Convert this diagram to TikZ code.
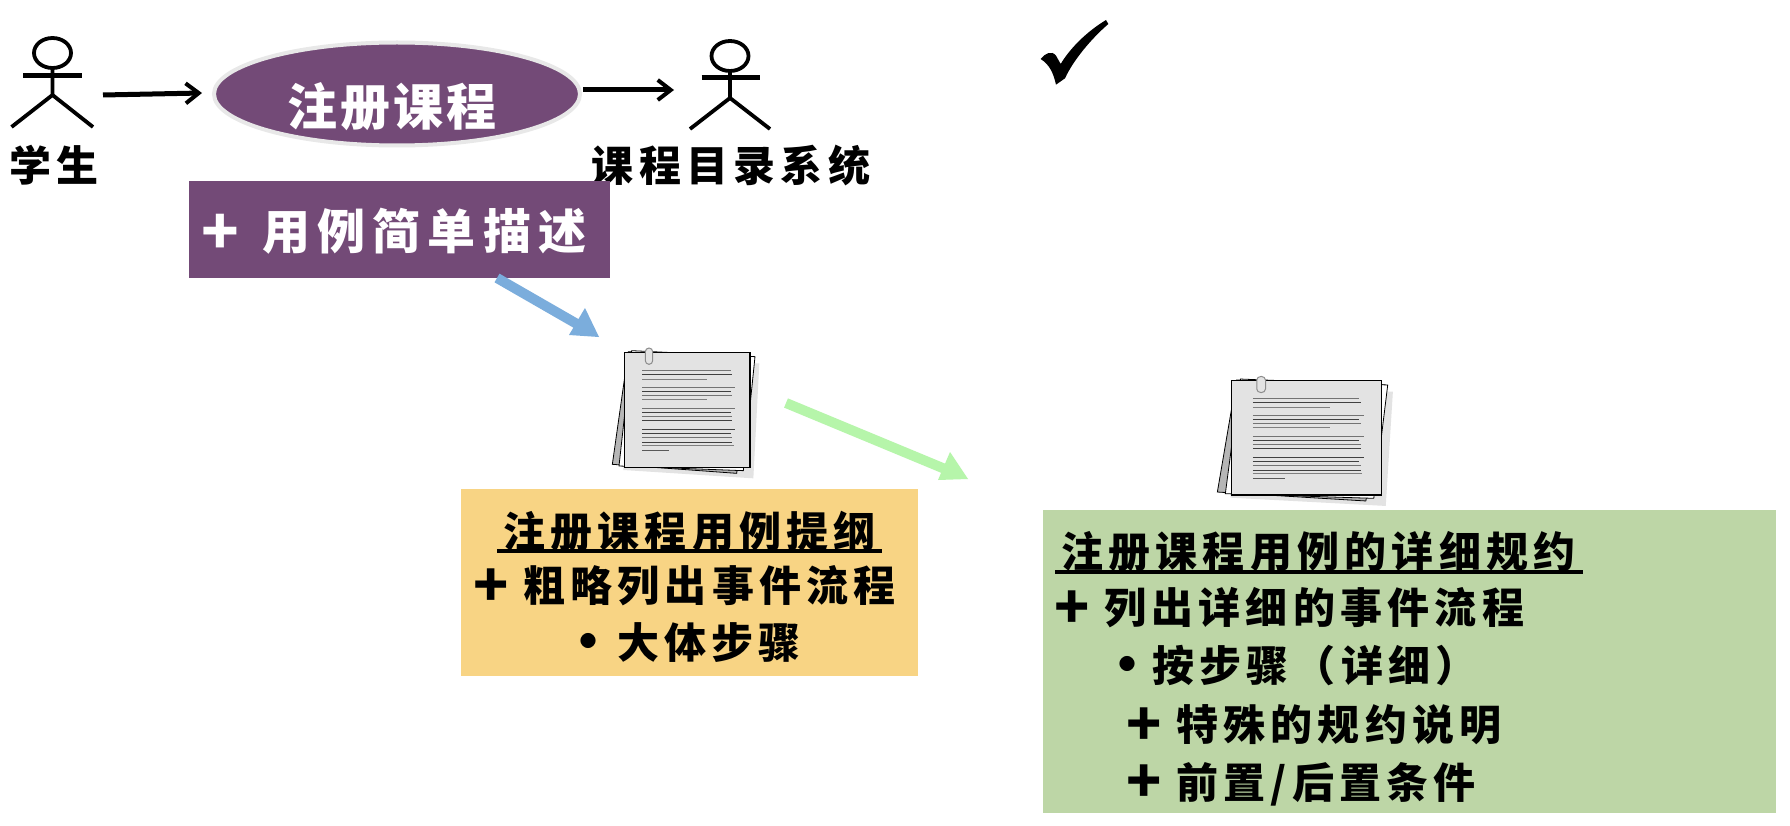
\documentclass[tikz,border=0pt]{standalone}
\usepackage{fontspec}
\usetikzlibrary{arrows.meta,shapes.geometric}
\setmainfont{Noto Sans CJK SC}
\newfontfamily\cjkA[LetterSpace=12.5]{Noto Sans CJK SC}
\newfontfamily\cjkB[LetterSpace=14]{Noto Sans CJK SC}
\newfontfamily\cjkC[LetterSpace=6]{Noto Sans CJK SC}
\newfontfamily\cjkD[LetterSpace=15]{Noto Sans CJK SC}
\definecolor{plum}{HTML}{734A77}
\definecolor{rimgray}{HTML}{E8E8E8}
\definecolor{orangebox}{HTML}{F8D484}
\definecolor{greenbox}{HTML}{BDD6A6}
\definecolor{bluearrow}{HTML}{7BADDC}
\definecolor{greenarrow}{HTML}{B6F5AA}
\definecolor{sheet}{HTML}{E3E3E3}
\newcommand{\plusgap}[2][50pt]{\makebox[#1][l]{\raisebox{-0.1em}{\fontsize{#2}{#2}\selectfont +}}}
\newcommand{\bulletgap}[1][39pt]{\makebox[#1][l]{\raisebox{-0.05em}{\fontsize{54}{54}\selectfont •}}}
\tikzset{
  actorline/.style={draw=black,line width=3.8pt},
  actorarm/.style={draw=black,line width=5pt},
  flow/.style={draw=black,line width=5pt,-{Straight Barb[length=13pt,width=20pt,line width=4pt]}},
  bigarrow/.style={line width=#1},
  blacktext/.style={inner sep=0pt,anchor=west,text=black,font=\fontsize{42}{42}\cjkA\bfseries},
  rule/.style={draw=black,line width=4pt},
}
\newcommand{\docicon}[4]{%
\begin{scope}[shift={(#1,#2)},xscale=#3/3,yscale=#4/3]
  \fill[black!11] (120,95) -- (508,100) -- (490,445) -- (100,420) -- cycle;
  \filldraw[fill=sheet!80!black,draw=black,line width=0.8pt] (115,65) -- (490,80) -- (440,430) -- (67,403) -- cycle;
  \filldraw[fill=white,draw=black,line width=0.8pt] (125,62) -- (495,80) -- (460,422) -- (87,408) -- cycle;
  \filldraw[fill=sheet,draw=black,line width=1.2pt] (103,67) rectangle (480,412);
  \foreach \ypos/\xend/\shade in {121/423/55,132/427/75,147/350/50,171/435/55,184/423/75,197/427/55,209/350/50,236/435/55,247/423/75,260/427/55,271/427/75,298/435/75,310/423/75,323/427/55,337/427/75,347/431/50,361/237/65}
    \draw[black!\shade,line width=1pt] (156,\ypos) -- (\xend,\ypos);
  \filldraw[fill=sheet,draw=black!45,line width=1pt] (166,65) arc[start angle=180,end angle=360,x radius=11,y radius=11] -- (188,92) arc[start angle=0,end angle=180,x radius=11,y radius=11] -- cycle;
\end{scope}}
\begin{document}
\begin{tikzpicture}[x=1pt,y=-1pt]
\useasboundingbox (0,0) rectangle (1790,826);
\fill[white] (0,0) rectangle (1790,826);

% actor: student
\draw[actorline] (52.5,53) ellipse[x radius=18.5,y radius=15];
\draw[actorline] (52.5,68) -- (52.5,95) -- (11.5,127);
\draw[actorline] (52.5,95) -- (93,127);
\draw[actorarm] (23,76) -- (81.5,76);
\node[inner sep=0pt,text=black,font=\fontsize{42}{42}\cjkB\bfseries] (student) at (54,165) {学生};

% actor: catalog
\draw[actorline] (730,56) ellipse[x radius=18.5,y radius=15];
\draw[actorline] (730,71) -- (730,98) -- (690,129);
\draw[actorline] (730,98) -- (770,129);
\draw[actorarm] (701.5,78) -- (759.5,78);
\node[inner sep=0pt,text=black,font=\fontsize{42}{42}\cjkA\bfseries] (catalog) at (731,165) {课程目录系统};

% use case
\node[ellipse,draw=rimgray,fill=plum,line width=4pt,minimum width=366pt,minimum height=103pt,inner sep=0pt] (usecase) at (397,94) {};
\node[inner sep=0pt,text=white,font=\fontsize{50}{50}\cjkC\bfseries] (uclabel) at (392,107) {注册课程};

\coordinate (s1) at (103,95); \coordinate (s2) at (202,93);
\draw[flow] (s1) -- (s2);
\coordinate (c1) at (583,90); \coordinate (c2) at (674,90);
\draw[flow] (c1) -- (c2);

% description box
\node[fill=plum,minimum width=421pt,minimum height=97pt,inner sep=0pt] (descbox) at (399.5,229.5) {};
\node[inner sep=0pt,anchor=west,text=white,font=\fontsize{48}{48}\cjkD\bfseries] (desclabel) at (201,231) {\plusgap[61pt]{62}用例简单描述};

% documents
\docicon{590}{330}{1}{1}
\docicon{1190.7}{358.5}{1.194}{0.994}

% arrows between documents
\coordinate (b1) at (497,278); \coordinate (b2) at (599,337);
\fill[bluearrow] (b2) -- (569,335) -- (585,308) -- cycle;
\draw[bluearrow,bigarrow=10pt] (b1) -- (577,324);
\coordinate (g1) at (786,403); \coordinate (g2) at (968,479);
\fill[greenarrow] (g2) -- (938,480) -- (950,452) -- cycle;
\draw[greenarrow,bigarrow=10pt] (g1) -- (945,469);

% outline box
\node[fill=orangebox,minimum width=457pt,minimum height=187pt,inner sep=0pt] (outline) at (689.5,582.5) {};
\node[blacktext] (o1) at (503,532) {注册课程用例提纲};
\draw[rule] (497,551) -- (882,551);
\node[blacktext] (o2) at (473,586) {\plusgap{58}粗略列出事件流程};
\node[blacktext] (o3) at (561,643) {\bulletgap[56pt]大体步骤};

% specification box
\node[fill=greenbox,minimum width=733pt,minimum height=303pt,inner sep=0pt] (spec) at (1409.5,661.5) {};
\node[blacktext] (g1t) at (1061,552) {注册课程用例的详细规约};
\draw[rule] (1055,572) -- (1583,572);
\node[blacktext] (g2t) at (1054,608) {\plusgap{58}列出详细的事件流程};
\node[blacktext] (g3t) at (1100,666) {\bulletgap[52pt]按步骤（详细）};
\node[blacktext] (g4t) at (1126,725) {\plusgap{58}特殊的规约说明};
\node[blacktext] (g5t) at (1126,784) {\plusgap{58}前置/后置条件};

% check mark
\begin{scope}[shift={(1000,0)},scale=1/3]
\fill[black] (122,177) .. controls (135,160) and (155,150) .. (168,167) -- (182,192)
  .. controls (210,145) and (260,95) .. (318,60) -- (325,72)
  .. controls (275,115) and (220,180) .. (195,235) -- (168,254)
  .. controls (160,220) and (150,195) .. (122,177) -- cycle;
\end{scope}
\end{tikzpicture}
\end{document}
